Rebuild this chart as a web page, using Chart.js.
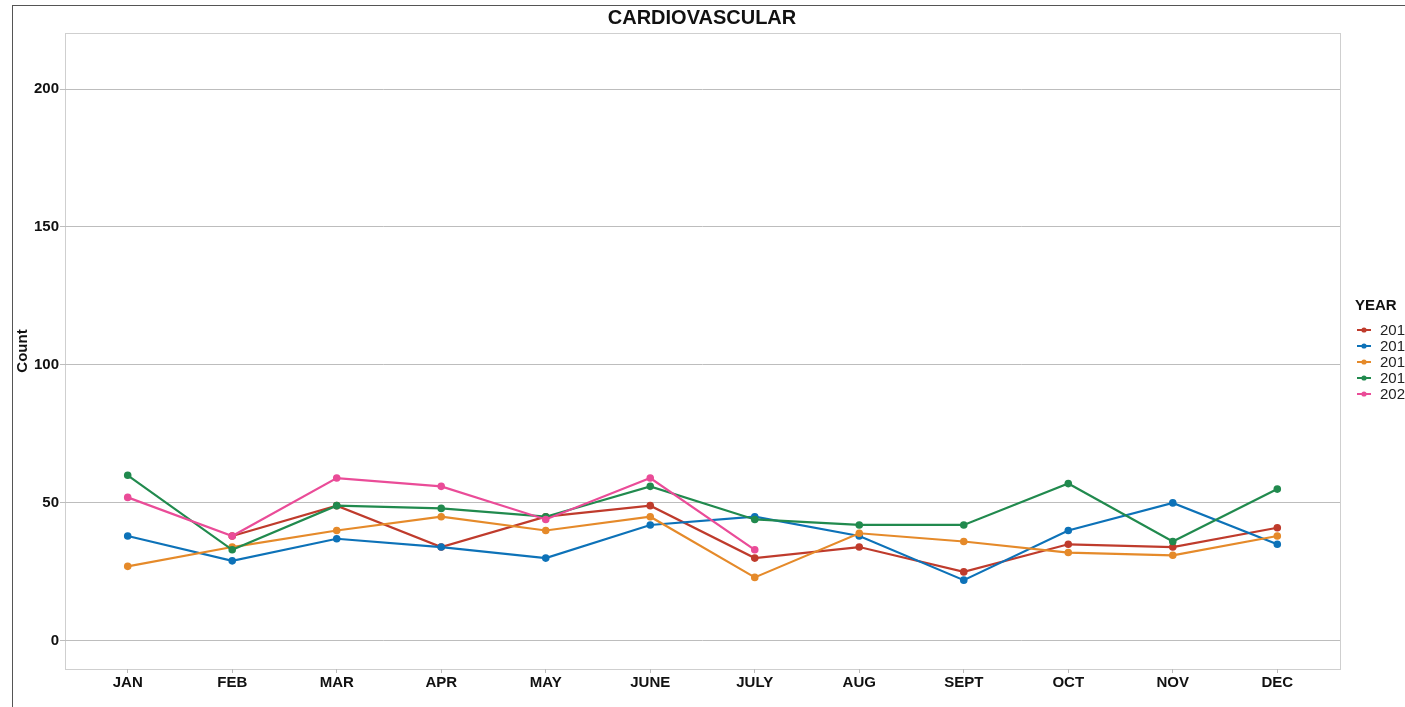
<!DOCTYPE html>
<html>
<head>
<meta charset="utf-8">
<script src="https://cdn.jsdelivr.net/npm/chart.js@4"></script>
<style>
  html, body { margin: 0; padding: 0; background: #fff; overflow: hidden; }
  #wrap { position: relative; width: 1405px; height: 707px; }
  #frame { position: absolute; left: 12px; top: 5px; right: 0; bottom: 0;
           border-top: 1px solid #555; border-left: 1px solid #555; pointer-events: none; }
</style>
</head>
<body>
<div id="wrap">
  <canvas id="chart" width="1405" height="707"></canvas>
  <div id="frame"></div>
</div>
<script>
const months = ['JAN', 'FEB', 'MAR', 'APR', 'MAY', 'JUNE', 'JULY', 'AUG', 'SEPT', 'OCT', 'NOV', 'DEC'];
const years = ['2016', '2017', '2018', '2019', '2020'];
const colors = ['#BF3B2C', '#0D72B8', '#E58A2A', '#218A4E', '#EA4C98'];

const y2016 = [null, 38, 49, 34, 45, 49, 30, 34, 25, 35, 34, 41];
const y2017 = [38, 29, 37, 34, 30, 42, 45, 38, 22, 40, 50, 35];
const y2018 = [27, 34, 40, 45, 40, 45, 23, 39, 36, 32, 31, 38];
const y2019 = [60, 33, 49, 48, 45, 56, 44, 42, 42, 57, 36, 55];
const y2020 = [52, 38, 59, 56, 44, 59, 33, null, null, null, null, null];
const yTicks = [0, 50, 100, 150, 200];

const series = [y2016, y2017, y2018, y2019, y2020];
const font = 'Liberation Sans, Arial, sans-serif';

// panel border, title and legend drawn like ggplot
const extras = {
    id: 'extras',
    beforeDraw(chart) {
        const { ctx, chartArea: a } = chart;
        ctx.save();
        ctx.strokeStyle = '#cfcfcf';
        ctx.lineWidth = 1;
        ctx.strokeRect(a.left + 0.5, a.top + 0.5, a.right - a.left, a.bottom - a.top);
        ctx.restore();
    },
    afterDraw(chart) {
        const ctx = chart.ctx;
        ctx.save();
        ctx.fillStyle = '#111';
        ctx.textBaseline = 'middle';
        ctx.textAlign = 'center';
        ctx.font = 'bold 20px ' + font;
        ctx.fillText('CARDIOVASCULAR', 702, 18);
        ctx.textAlign = 'left';
        ctx.font = 'bold 15px ' + font;
        ctx.fillText('YEAR', 1355, 306);
        ctx.font = '15px ' + font;
        chart.data.datasets.forEach((ds, i) => {
            const y = 330 + i * 16;
            ctx.strokeStyle = ds.borderColor;
            ctx.lineWidth = 2;
            ctx.beginPath();
            ctx.moveTo(1357, y);
            ctx.lineTo(1371, y);
            ctx.stroke();
            ctx.fillStyle = ds.borderColor;
            ctx.beginPath();
            ctx.arc(1364, y, 2.6, 0, Math.PI * 2);
            ctx.fill();
            ctx.fillStyle = '#222';
            ctx.fillText(ds.label, 1380, y + 1);
        });
        ctx.restore();
    }
};

new Chart(document.getElementById('chart'), {
    type: 'line',
    data: {
        datasets: years.map((yr, i) => ({
            label: yr,
            data: series[i].map((v, j) => ({ x: j, y: v })),
            borderColor: colors[i],
            backgroundColor: colors[i],
            borderWidth: 2.2,
            pointRadius: 2.7,
            pointHoverRadius: 2.7,
            order: years.length - i
        }))
    },
    options: {
        responsive: false,
        animation: false,
        layout: { padding: { left: 0, right: 65, top: 33, bottom: 0 } },
        plugins: {
            legend: { display: false },
            tooltip: { enabled: false },
            title: { display: false }
        },
        scales: {
            x: {
                type: 'linear',
                min: -0.6,
                max: 11.6,
                afterFit: s => { s.height = 38; },
                border: { display: false },
                grid: { drawOnChartArea: false, tickLength: 4, color: '#bbb' },
                ticks: {
                    stepSize: 1,
                    includeBounds: false,
                    autoSkip: false,
                    maxRotation: 0,
                    padding: 1,
                    color: '#111',
                    font: { family: font, size: 15, weight: 'bold' },
                    callback: v => months[v] || ''
                }
            },
            y: {
                min: -10.2,
                max: 220.3,
                afterFit: s => { s.width = 65; },
                afterBuildTicks: s => { s.ticks = yTicks.map(v => ({ value: v })); },
                border: { display: false },
                grid: { color: '#bdbdbd', tickLength: 5 },
                title: {
                    display: true,
                    text: 'Count',
                    color: '#111',
                    font: { family: font, size: 15, weight: 'bold' },
                    padding: { top: 14, bottom: 0 }
                },
                ticks: {
                    padding: 1,
                    color: '#111',
                    font: { family: font, size: 15, weight: 'bold' }
                }
            }
        }
    },
    plugins: [extras]
});
</script>
</body>
</html>
